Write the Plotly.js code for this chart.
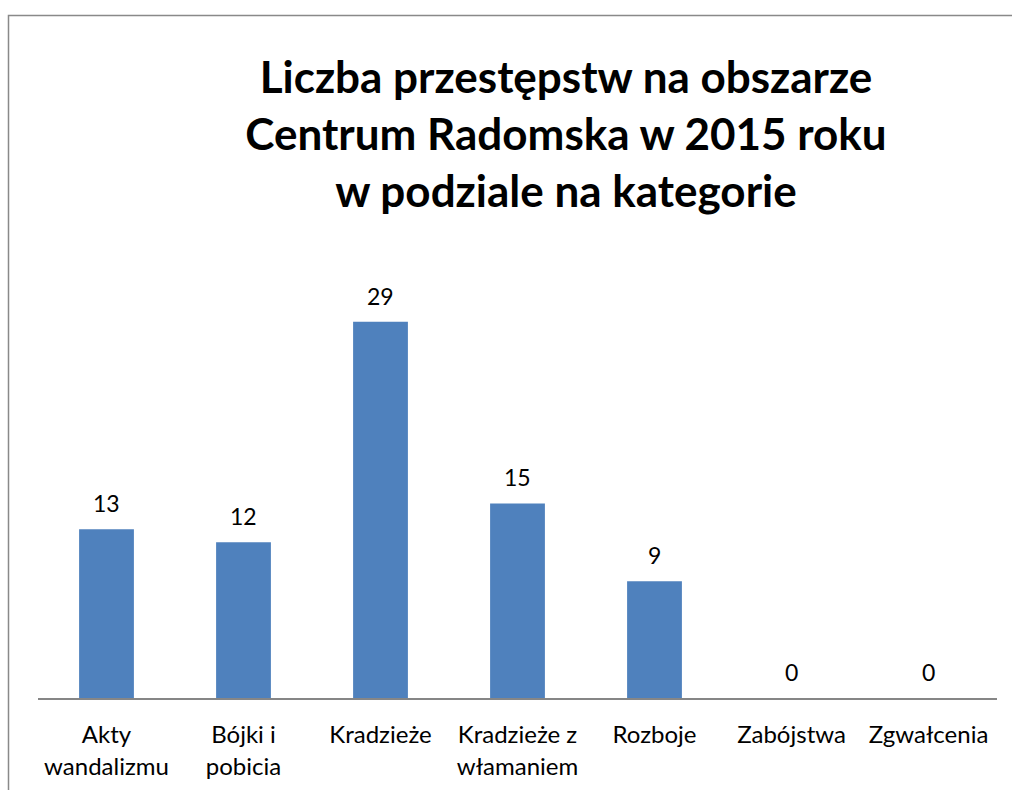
<!DOCTYPE html>
<html>
<head>
<meta charset="utf-8">
<script src="https://cdn.plot.ly/plotly-3.0.1.min.js"></script>
<style>html,body{margin:0;padding:0;background:#fff;}#chart{width:1012px;height:790px;}</style>
</head>
<body>
<div id="chart"></div>
<script>
const categories = ["Akty<br>wandalizmu", "Bójki i<br>pobicia", "Kradzieże", "Kradzieże z<br>włamaniem", "Rozboje", "Zabójstwa", "Zgwałcenia"];
const values = [13, 12, 29, 15, 9, 0, 0];
const titleLines = ["Liczba przestępstw na obszarze", "Centrum Radomska w 2015 roku", "w podziale na kategorie"];

const FONT = "Lato, 'Open Sans', sans-serif";

const trace = {
  type: "bar",
  x: categories,
  y: values,
  marker: {color: "#4F81BD"},
  hoverinfo: "x+y"
};

const labels = categories.map((c, i) => ({
  x: c, y: values[i], xref: "x", yref: "y",
  text: String(values[i]), showarrow: false,
  yanchor: "middle", yshift: 26,
  font: {family: FONT, size: 23, color: "#000"}
}));

const layout = {
  width: 1012, height: 790,
  margin: {l: 38, r: 15, t: 244, b: 92},
  paper_bgcolor: "#fff", plot_bgcolor: "#fff",
  showlegend: false,
  bargap: 0.6,
  title: {
    text: "<b>" + titleLines.join("<br>") + "</b>",
    font: {family: FONT, size: 44, color: "#000"},
    xref: "container", x: 566/1012, xanchor: "center",
    yref: "container", y: 1 - 93/790, yanchor: "top"
  },
  xaxis: {
    type: "category",
    showline: true, linecolor: "#868686", linewidth: 1.5,
    showgrid: false, zeroline: false, ticks: "",
    tickfont: {family: FONT, size: 24, color: "#000"},
    ticklabelstandoff: 15
  },
  yaxis: {
    range: [0, 35], visible: false, showgrid: false, zeroline: false, fixedrange: true
  },
  annotations: labels,
  shapes: [{
    type: "rect", xref: "paper", yref: "paper",
    x0: (8.5 - 38) / 959, x1: 1.1,
    y0: -0.3, y1: (698 - 15.5) / 454,
    line: {color: "#898989", width: 1.5},
    fillcolor: "rgba(0,0,0,0)", layer: "below"
  }]
};

Plotly.newPlot("chart", [trace], layout, {displayModeBar: false, staticPlot: true});
</script>
</body>
</html>
